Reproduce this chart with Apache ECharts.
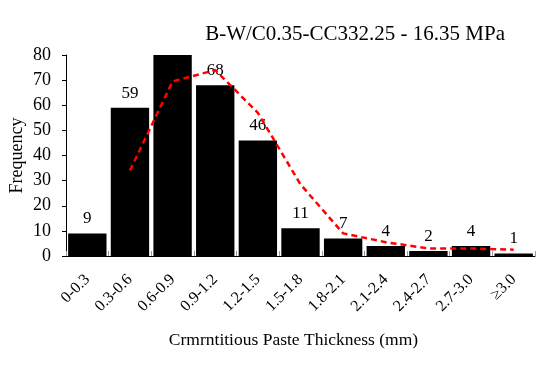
<!DOCTYPE html>
<html><head><meta charset="utf-8">
<script src="https://cdn.jsdelivr.net/npm/echarts@6/dist/echarts.min.js"></script>
<style>html,body{margin:0;padding:0;background:#fff}#c{width:538px;height:369px}</style>
</head><body><div id="c"></div>
<script>
const categories = ['0-0.3','0.3-0.6','0.6-0.9','0.9-1.2','1.2-1.5','1.5-1.8','1.8-2.1','2.1-2.4','2.4-2.7','2.7-3.0','≥3.0'];
const frequency = [9, 59, 80, 68, 46, 11, 7, 4, 2, 4, 1];
const movingAvg = [null, 34, 69.5, 74, 57, 28.5, 9, 5.5, 3, 3, 2.5];
const yTicks = [0, 10, 20, 30, 40, 50, 60, 70, 80];
const hiddenLabelIndex = 2;

const font = '"Liberation Serif", "Times New Roman", serif';
const chart = echarts.init(document.getElementById('c'));
chart.setOption({
  animation: false,
  title: {
    text: 'B-W/C0.35-CC332.25 - 16.35 MPa',
    right: 28, top: 19,
    textStyle: {fontFamily: font, fontSize: 21, fontWeight: 'normal', color: '#000'}
  },
  grid: {left: 66, right: 3, top: 55, bottom: 113, containLabel: false, outerBoundsMode: 'none'},
  xAxis: {
    type: 'category', data: categories,
    name: 'Crmrntitious Paste Thickness (mm)', nameLocation: 'middle', nameGap: 75,
    nameMoveOverlap: false,
    nameTextStyle: {fontFamily: font, fontSize: 17.5, color: '#000', padding: [0, 14, 0, 0]},
    axisLine: {lineStyle: {color: '#000', width: 1}},
    axisTick: {show: true, inside: true, length: 5, lineStyle: {color: '#999'}},
    axisLabel: {rotate: 45, fontFamily: font, fontSize: 16, color: '#000', margin: 21, interval: 0}
  },
  yAxis: {
    type: 'value', min: yTicks[0], max: yTicks[yTicks.length - 1], interval: 10,
    name: 'Frequency', nameLocation: 'middle', nameGap: 40,
    nameMoveOverlap: false,
    nameTextStyle: {fontFamily: font, fontSize: 18, color: '#000'},
    axisLine: {show: true, lineStyle: {color: '#000', width: 1}},
    axisTick: {show: true, length: 4, lineStyle: {color: '#000'}},
    splitLine: {show: false},
    axisLabel: {fontFamily: font, fontSize: 18, color: '#000', margin: 15}
  },
  series: [
    {
      type: 'bar',
      data: frequency.map((v, i) => i === hiddenLabelIndex ? {value: v, label: {show: false}} : v),
      barCategoryGap: '10%',
      itemStyle: {color: '#000'},
      label: {show: true, position: 'top', distance: 6, fontFamily: font, fontSize: 17, color: '#000'}
    },
    {
      type: 'line',
      data: movingAvg,
      symbol: 'none',
      lineStyle: {color: '#FF0000', width: 2.5, type: [6, 4]},
      z: 5
    }
  ]
});
</script></body></html>
